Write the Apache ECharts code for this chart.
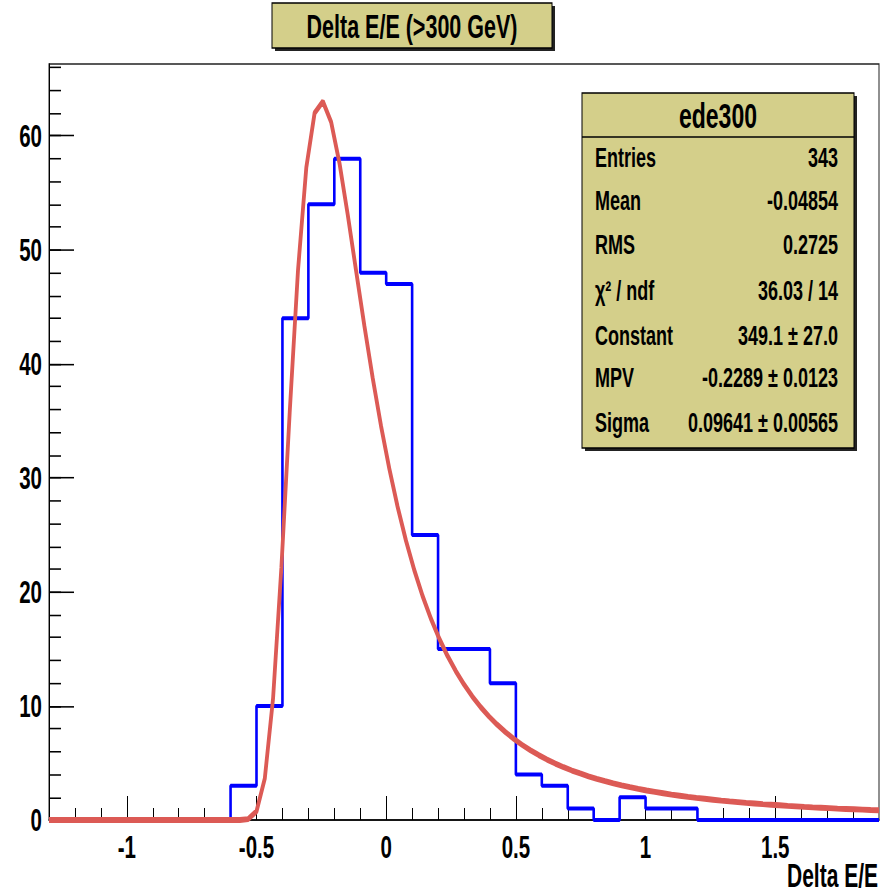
<!DOCTYPE html>
<html><head><meta charset="utf-8">
<script src="https://cdn.jsdelivr.net/npm/echarts@6/dist/echarts.min.js"></script>
<style>
html,body{margin:0;padding:0;background:#fff;overflow:hidden}
#wrap{width:892px;height:895px;overflow:hidden}
/* the reference image is vertically stretched: draw at 892x578 and stretch to 895 */
#c{width:892px;height:578px;transform-origin:0 0;transform:scaleY(1.548443)}
</style>
</head><body><div id="wrap"><div id="c"></div></div>
<script>
// ---- data ----
var binLow = [-1.3,-1.2,-1.1,-1.0,-0.9,-0.8,-0.7,-0.6,-0.5,-0.4,-0.3,-0.2,-0.1,0.0,0.1,0.2,
              0.3,0.4,0.5,0.6,0.7,0.8,0.9,1.0,1.1,1.2,1.3,1.4,1.5,1.6,1.7,1.8];
var counts = [0,0,0,0,0,0,0,3,10,44,54,58,48,47,25,15,
              15,12,4,3,1,0,2,1,1,0,0,0,0,0,0,0];
var histEnd = 1.9;
var fitX = [-1.3,-0.564,-0.532,-0.5,-0.468,-0.436,-0.404,-0.372,-0.34,-0.308,-0.276,-0.244,-0.212,-0.18,-0.148,-0.116,
  -0.084,-0.052,-0.02,0.012,0.044,0.076,0.108,0.14,0.172,0.204,0.236,0.268,0.3,0.332,0.364,0.396,0.428,0.46,0.492,
  0.524,0.556,0.588,0.62,0.652,0.684,0.716,0.748,0.78,0.812,0.844,0.876,0.908,0.94,0.972,1.004,1.036,1.068,1.1,1.132,
  1.164,1.196,1.228,1.26,1.292,1.324,1.356,1.388,1.42,1.452,1.484,1.516,1.548,1.58,1.612,1.644,1.676,1.708,1.74,1.772,
  1.804,1.836,1.868,1.9];
var fitY = [0,0,0.08,0.76,3.64,10.70,22.16,35.74,48.21,57.21,62.00,63.01,61.19,57.59,53.05,48.16,
  43.32,38.76,34.57,30.81,27.47,24.52,21.94,19.67,17.68,15.94,14.41,13.07,11.89,10.84,9.91,9.09,8.36,7.71,7.12,
  6.59,6.12,5.69,5.30,4.95,4.63,4.34,4.08,3.83,3.61,3.41,3.22,3.04,2.88,2.73,2.59,2.47,2.35,2.23,2.13,
  2.03,1.94,1.86,1.78,1.70,1.63,1.57,1.50,1.45,1.39,1.34,1.29,1.24,1.20,1.15,1.11,1.08,1.04,1.00,0.97,
  0.94,0.91,0.88,0.86];
var xMajorTicks = [-1,-0.5,0,0.5,1,1.5];
var xMinorTicks = [-1.3,-1.2,-1.1,-1.0,-0.9,-0.8,-0.7,-0.6,-0.5,-0.4,-0.3,-0.2,-0.1,0,0.1,0.2,0.3,0.4,0.5,0.6,0.7,0.8,0.9,1.0,1.1,1.2,1.3,1.4,1.5,1.6,1.7,1.8];
var yMajorTicks = [0,10,20,30,40,50,60];
var yMinorTicks = [0,2,4,6,8,10,12,14,16,18,20,22,24,26,28,30,32,34,36,38,40,42,44,46,48,50,52,54,56,58,60,62,64,66];
var titleText = 'Delta E/E (>300 GeV)';
var xTitle = 'Delta E/E';
var statsName = 'ede300';
var statsLabels = ['Entries','Mean','RMS','\u03c7\u00b2 / ndf','Constant','MPV','Sigma'];
var statsValues = ['343','-0.04854','0.2725','36.03 / 14','349.1 \u00b1 27.0','-0.2289 \u00b1 0.0123','0.09641 \u00b1 0.00565'];

// ---- layout (reference pixel rows are divided by the vertical stretch S) ----
var S = 895/578;
function Y(v){ return v/S; }
var FF = '"Liberation Sans",Arial,Helvetica,sans-serif';
var khaki = '#d4cf8a';
var histData = binLow.map(function(x,i){return [x,counts[i]];});
histData.push([histEnd,0]);
var fitData = fitX.map(function(x,i){return [x,fitY[i]];});

function axisBase(extra){
  var o = {type:'value', splitLine:{show:false}, axisLine:{show:true, onZero:false, lineStyle:{color:'#000',width:1}}};
  for (var k in extra) o[k]=extra[k];
  return o;
}
var xr = {min:-1.3, max:1.9};
var yr = {min:0, max:66.3};
var statsGraphics = [];
var rowY = [157,200,244,290,335,377,422];
statsLabels.forEach(function(t,i){
  statsGraphics.push({type:'text', x:595, y:Y(rowY[i]), style:{text:t, font:'bold 18px '+FF, fill:'#000', align:'left', verticalAlign:'middle'}});
  statsGraphics.push({type:'text', x:838, y:Y(rowY[i]), style:{text:statsValues[i], font:'bold 18px '+FF, fill:'#000', align:'right', verticalAlign:'middle'}});
});

var option = {
  animation:false,
  backgroundColor:'#fff',
  grid:{left:49, top:Y(64), right:13, bottom:Y(75), show:true, borderColor:'#222', borderWidth:1, backgroundColor:'transparent'},
  xAxis:[
    axisBase({min:xr.min, max:xr.max, position:'bottom',
      axisTick:{show:true, inside:true, length:Y(12), customValues:xMinorTicks, lineStyle:{color:'#000',width:1}},
      axisLabel:{show:false}}),
    axisBase({min:xr.min, max:xr.max, position:'bottom', axisLine:{show:false, onZero:false},
      axisTick:{show:true, inside:true, length:Y(24), customValues:xMajorTicks, lineStyle:{color:'#000',width:1}},
      axisLabel:{show:true, customValues:xMajorTicks, color:'#000', fontSize:20.5, fontWeight:'bold', fontFamily:FF, margin:Y(11)}})
  ],
  yAxis:[
    axisBase({min:yr.min, max:yr.max, position:'left',
      axisTick:{show:true, inside:true, length:12, customValues:yMinorTicks, lineStyle:{color:'#000',width:1}},
      axisLabel:{show:false}}),
    axisBase({min:yr.min, max:yr.max, position:'left', axisLine:{show:false, onZero:false},
      axisTick:{show:true, inside:true, length:25, customValues:yMajorTicks, lineStyle:{color:'#000',width:1}},
      axisLabel:{show:true, customValues:yMajorTicks, color:'#000', fontSize:20.5, fontWeight:'bold', fontFamily:FF, margin:7}})
  ],
  series:[
    {type:'line', name:'ede300', xAxisIndex:0, yAxisIndex:0, step:'end', data:histData, symbol:'none',
     lineStyle:{color:'#0000ff', width:2.6}, z:3},
    {type:'line', name:'landau', xAxisIndex:0, yAxisIndex:0, data:fitData, symbol:'none', smooth:false,
     lineStyle:{color:'#dc5a55', width:3.8}, z:4}
  ],
  graphic:[
    {type:'rect', shape:{x:275, y:Y(6), width:280, height:Y(45)}, style:{fill:'#222'}},
    {type:'rect', shape:{x:272, y:Y(3), width:280, height:Y(45)}, style:{fill:khaki, stroke:'#000', lineWidth:1}},
    {type:'text', x:412, y:Y(27), style:{text:titleText, font:'bold 21.5px '+FF, fill:'#000', align:'center', verticalAlign:'middle'}},
    {type:'rect', shape:{x:585, y:Y(96), width:272, height:Y(355)}, style:{fill:'#222'}},
    {type:'rect', shape:{x:582, y:Y(93), width:272, height:Y(355)}, style:{fill:khaki, stroke:'#000', lineWidth:1}},
    {type:'line', shape:{x1:582, y1:Y(137), x2:854, y2:Y(137)}, style:{stroke:'#000', lineWidth:1}},
    {type:'text', x:718, y:Y(116), style:{text:statsName, font:'bold 23px '+FF, fill:'#000', align:'center', verticalAlign:'middle'}},
    {type:'text', x:878, y:Y(876), style:{text:xTitle, font:'bold 21px '+FF, fill:'#000', align:'right', verticalAlign:'middle'}}
  ].concat(statsGraphics)
};
var chart = echarts.init(document.getElementById('c'), null, {renderer:'svg', width:892, height:578});
chart.setOption(option);
</script></body></html>
